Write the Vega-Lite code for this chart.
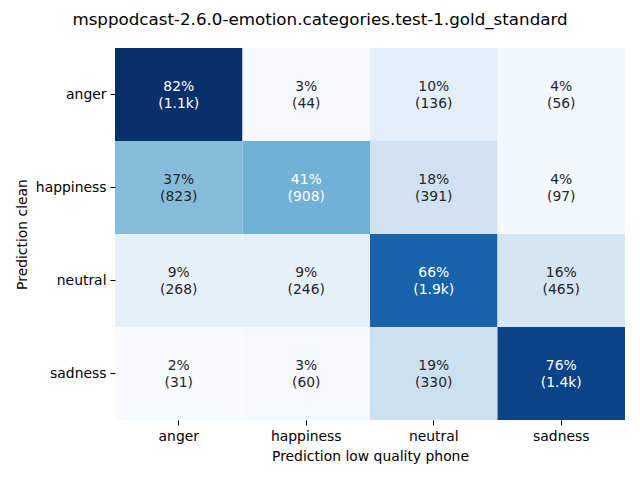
{
  "$schema": "https://vega.github.io/schema/vega-lite/v6.json",
  "width": 510,
  "height": 372,
  "autosize": "none",
  "padding": {"left": 115, "top": 48, "right": 15, "bottom": 60},
  "background": "white",
  "title": {
    "text": "msppodcast-2.6.0-emotion.categories.test-1.gold_standard",
    "font": "DejaVu Sans",
    "fontSize": 16.7,
    "fontWeight": "normal",
    "color": "black",
    "anchor": "middle",
    "dx": -50,
    "offset": 19
  },
  "config": {
    "view": {"stroke": null},
    "axis": {
      "labelFont": "DejaVu Sans",
      "titleFont": "DejaVu Sans",
      "labelFontSize": 13.9,
      "titleFontSize": 13.9,
      "titleFontWeight": "normal",
      "labelColor": "black",
      "titleColor": "black",
      "tickColor": "black",
      "tickSize": 5,
      "domain": false,
      "grid": false
    }
  },
  "data": {
    "values": [
      {"clean": "anger", "phone": "anger", "pct": 82, "lines": ["82%", "(1.1k)"]},
      {"clean": "anger", "phone": "happiness", "pct": 3, "lines": ["3%", "(44)"]},
      {"clean": "anger", "phone": "neutral", "pct": 10, "lines": ["10%", "(136)"]},
      {"clean": "anger", "phone": "sadness", "pct": 4, "lines": ["4%", "(56)"]},
      {"clean": "happiness", "phone": "anger", "pct": 37, "lines": ["37%", "(823)"]},
      {"clean": "happiness", "phone": "happiness", "pct": 41, "lines": ["41%", "(908)"]},
      {"clean": "happiness", "phone": "neutral", "pct": 18, "lines": ["18%", "(391)"]},
      {"clean": "happiness", "phone": "sadness", "pct": 4, "lines": ["4%", "(97)"]},
      {"clean": "neutral", "phone": "anger", "pct": 9, "lines": ["9%", "(268)"]},
      {"clean": "neutral", "phone": "happiness", "pct": 9, "lines": ["9%", "(246)"]},
      {"clean": "neutral", "phone": "neutral", "pct": 66, "lines": ["66%", "(1.9k)"]},
      {"clean": "neutral", "phone": "sadness", "pct": 16, "lines": ["16%", "(465)"]},
      {"clean": "sadness", "phone": "anger", "pct": 2, "lines": ["2%", "(31)"]},
      {"clean": "sadness", "phone": "happiness", "pct": 3, "lines": ["3%", "(60)"]},
      {"clean": "sadness", "phone": "neutral", "pct": 19, "lines": ["19%", "(330)"]},
      {"clean": "sadness", "phone": "sadness", "pct": 76, "lines": ["76%", "(1.4k)"]}
    ]
  },
  "encoding": {
    "x": {
      "field": "phone",
      "type": "nominal",
      "sort": ["anger", "happiness", "neutral", "sadness"],
      "scale": {"paddingInner": 0, "paddingOuter": 0},
      "axis": {"title": "Prediction low quality phone", "labelAngle": 0, "labelPadding": 4, "titlePadding": 7}
    },
    "y": {
      "field": "clean",
      "type": "nominal",
      "sort": ["anger", "happiness", "neutral", "sadness"],
      "scale": {"paddingInner": 0, "paddingOuter": 0},
      "axis": {"title": "Prediction clean", "labelPadding": 4, "titlePadding": 6}
    }
  },
  "layer": [
    {
      "mark": {"type": "rect"},
      "encoding": {
        "color": {
          "field": "pct",
          "type": "quantitative",
          "scale": {
            "zero": false,
            "nice": false,
            "range": ["#f7fbff", "#deebf7", "#c6dbef", "#9ecae1", "#6baed6", "#4292c6", "#2171b5", "#08519c", "#08306b"]
          },
          "legend": null
        }
      }
    },
    {
      "mark": {"type": "text", "font": "DejaVu Sans", "fontSize": 13.9, "lineHeight": 17, "baseline": "middle", "align": "center", "dy": -8},
      "encoding": {
        "text": {"field": "lines"},
        "color": {
          "condition": {"test": "datum.pct >= 40", "value": "white"},
          "value": "#262626"
        }
      }
    }
  ]
}
